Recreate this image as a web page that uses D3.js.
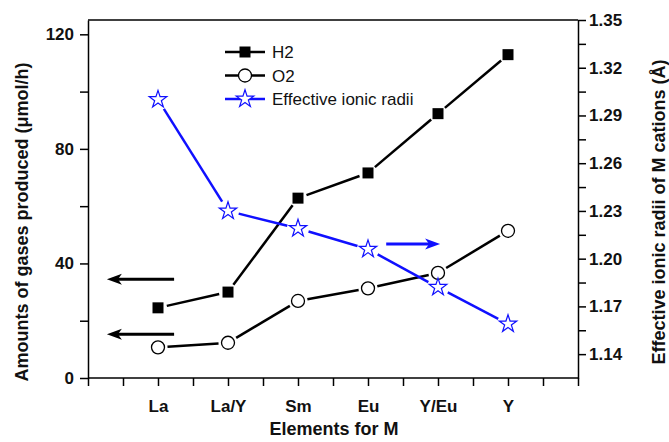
<!DOCTYPE html>
<html>
<head>
<meta charset="utf-8">
<script src="https://cdn.jsdelivr.net/npm/d3@7"></script>
<style>
body { margin: 0; background: #fff; }
text { font-family: "Liberation Sans", Arial, sans-serif; }
</style>
</head>
<body>
<script>
var width = 669;
var height = 442;
var margin = {left: 88, right: 91, top: 20, bottom: 64};

// data
var elements = ["La", "La/Y", "Sm", "Eu", "Y/Eu", "Y"];
var h2 = [24.5, 30, 62.8, 71.6, 92.3, 112.9];
var o2 = [10.7, 12.3, 26.9, 31.3, 36.7, 51.4];
var radii = [1.300, 1.230, 1.219, 1.206, 1.182, 1.159];
var leftTicks = [0, 40, 80, 120];
var rightTicks = [1.14, 1.17, 1.20, 1.23, 1.26, 1.29, 1.32, 1.35];
// arrows: [x1, x2, y] in data units
var leftArrows = [[1.23, 0.27, 34.5], [1.23, 0.27, 15.3]];
var rightArrows = [[4.26, 5.03, 1.2092]];

var svg = d3.select('body').append('svg')
        .attr('width', width)
        .attr('height', height);

var x = d3.scaleLinear().domain([0, 7]).range([margin.left, width - margin.right]);
var yL = d3.scaleLinear().domain([0, 125]).range([height - margin.bottom, margin.top]);
var yR = d3.scaleLinear().domain([1.125, 1.35]).range([height - margin.bottom, margin.top]);

var bottomY = height - margin.bottom;
var rightX = width - margin.right;

// frame top line
svg.append('line')
        .attr('x1', margin.left).attr('x2', rightX)
        .attr('y1', margin.top).attr('y2', margin.top)
        .attr('stroke', '#000').attr('stroke-width', 1.5);

// x axis: minor ticks every 0.5, labels on integers
var xAxis = svg.append('g')
        .attr('transform', 'translate(0,' + bottomY + ')')
        .call(d3.axisBottom(x)
                .tickValues(d3.range(0, 7.01, 0.5))
                .tickSize(8)
                .tickSizeOuter(0)
                .tickFormat(function(d) { return (d % 1 === 0 && d >= 1 && d <= 6) ? elements[d - 1] : ''; }));
xAxis.selectAll('text').attr('y', 34).attr('dy', 0);

var yAxisL = svg.append('g')
        .attr('transform', 'translate(' + margin.left + ',0)')
        .call(d3.axisLeft(yL)
                .tickValues(d3.range(0, 121, 20))
                .tickSize(8)
                .tickSizeOuter(0)
                .tickFormat(function(d) { return leftTicks.indexOf(d) >= 0 ? d : ''; }));

var yAxisR = svg.append('g')
        .attr('transform', 'translate(' + rightX + ',0)')
        .call(d3.axisRight(yR)
                .tickValues(d3.range(0, 15).map(function(i) { return +(1.14 + i * 0.015).toFixed(3); }))
                .tickSize(8)
                .tickSizeOuter(0)
                .tickFormat(function(d) { return rightTicks.indexOf(d) >= 0 ? d.toFixed(2) : ''; }));

[xAxis, yAxisL, yAxisR].forEach(function(a) {
    a.select('.domain').attr('stroke-width', 1.5);
    a.selectAll('.tick line').attr('stroke-width', 1.5);
    a.selectAll('text')
            .attr('font-family', '"Liberation Sans", Arial, sans-serif')
            .attr('font-size', 17)
            .attr('font-weight', 'bold')
            .attr('fill', '#111');
});
// stretch x axis domain to full width
xAxis.select('.domain').attr('d', 'M' + margin.left + ',0H' + rightX);
yAxisL.selectAll('text').attr('x', -14);
yAxisR.selectAll('text').attr('x', 11);

// axis titles
svg.append('text')
        .text('Amounts of gases produced (\u03bcmol/h)')
        .attr('text-anchor', 'middle')
        .attr('font-size', 18)
        .attr('font-weight', 'bold')
        .attr('fill', '#111')
        .attr('transform', 'translate(28,' + 222 + ') rotate(-90)');

svg.append('text')
        .text('Effective ionic radii of M cations (\u00c5)')
        .attr('text-anchor', 'middle')
        .attr('font-size', 18)
        .attr('font-weight', 'bold')
        .attr('fill', '#111')
        .attr('transform', 'translate(665,' + 212 + ') rotate(-90)');

svg.append('text')
        .text('Elements for M')
        .attr('text-anchor', 'middle')
        .attr('font-size', 18)
        .attr('font-weight', 'bold')
        .attr('fill', '#111')
        .attr('x', 334)
        .attr('y', 435);

// line segments with gaps round the markers
function gappedLine(pts, gap, color) {
    for (var i = 0; i < pts.length - 1; i++) {
        var a = pts[i], b = pts[i + 1];
        var dx = b[0] - a[0], dy = b[1] - a[1];
        var len = Math.sqrt(dx * dx + dy * dy);
        var ux = dx / len, uy = dy / len;
        svg.append('line')
                .attr('x1', a[0] + ux * gap).attr('y1', a[1] + uy * gap)
                .attr('x2', b[0] - ux * gap).attr('y2', b[1] - uy * gap)
                .attr('stroke', color)
                .attr('stroke-width', 2.5);
    }
}

var h2Pts = h2.map(function(d, i) { return [x(i + 1), yL(d)]; });
var o2Pts = o2.map(function(d, i) { return [x(i + 1), yL(d)]; });
var rPts = radii.map(function(d, i) { return [x(i + 1), yR(d)]; });

gappedLine(h2Pts, 9, '#000');
gappedLine(o2Pts, 9.5, '#000');
gappedLine(rPts, 11, '#1010ff');

var square = d3.symbol().type(d3.symbolSquare).size(121);
var star = d3.symbol().type(d3.symbolStar).size(95);

svg.selectAll('.h2').data(h2Pts).enter().append('path')
        .attr('d', square)
        .attr('transform', function(d) { return 'translate(' + d[0] + ',' + d[1] + ')'; })
        .attr('fill', '#000');

svg.selectAll('.o2').data(o2Pts).enter().append('circle')
        .attr('cx', function(d) { return d[0]; })
        .attr('cy', function(d) { return d[1]; })
        .attr('r', 6.5)
        .attr('fill', '#fff')
        .attr('stroke', '#000')
        .attr('stroke-width', 1.3);

svg.selectAll('.rad').data(rPts).enter().append('path')
        .attr('d', star)
        .attr('transform', function(d) { return 'translate(' + d[0] + ',' + d[1] + ')'; })
        .attr('fill', '#fff')
        .attr('stroke', '#1010ff')
        .attr('stroke-width', 1.2);

// arrows
function arrow(x1, x2, y, color) {
    var dir = x2 > x1 ? 1 : -1;
    svg.append('line')
            .attr('x1', x1).attr('x2', x2 - dir * 10)
            .attr('y1', y).attr('y2', y)
            .attr('stroke', color).attr('stroke-width', 3);
    svg.append('path')
            .attr('d', 'M' + x2 + ',' + y + 'L' + (x2 - dir * 15) + ',' + (y - 5.5) +
                    'L' + (x2 - dir * 11) + ',' + y + 'L' + (x2 - dir * 15) + ',' + (y + 5.5) + 'Z')
            .attr('fill', color);
}
leftArrows.forEach(function(a) { arrow(x(a[0]), x(a[1]), yL(a[2]), '#000'); });
rightArrows.forEach(function(a) { arrow(x(a[0]), x(a[1]), yR(a[2]), '#1010ff'); });

// legend
var legendItems = [
    {name: 'H2', kind: 'square', color: '#000'},
    {name: 'O2', kind: 'circle', color: '#000'},
    {name: 'Effective ionic radii', kind: 'star', color: '#1010ff'}
];
var legend = svg.append('g');
legendItems.forEach(function(item, i) {
    var ly = 52 + i * 23.5;
    legend.append('line')
            .attr('x1', 225).attr('x2', 265)
            .attr('y1', ly).attr('y2', ly)
            .attr('stroke', item.color).attr('stroke-width', 2.5);
    if (item.kind === 'square') {
        legend.append('path').attr('d', square)
                .attr('transform', 'translate(245,' + ly + ')')
                .attr('fill', '#000');
    } else if (item.kind === 'circle') {
        legend.append('circle').attr('cx', 245).attr('cy', ly).attr('r', 6.5)
                .attr('fill', '#fff').attr('stroke', '#000').attr('stroke-width', 1.3);
    } else {
        legend.append('path').attr('d', star)
                .attr('transform', 'translate(245,' + ly + ')')
                .attr('fill', '#fff').attr('stroke', item.color).attr('stroke-width', 1.2);
    }
    legend.append('text')
            .text(item.name)
            .attr('x', 272)
            .attr('y', ly + 6)
            .attr('font-size', 17)
            .attr('fill', '#111');
});
</script>
</body>
</html>
